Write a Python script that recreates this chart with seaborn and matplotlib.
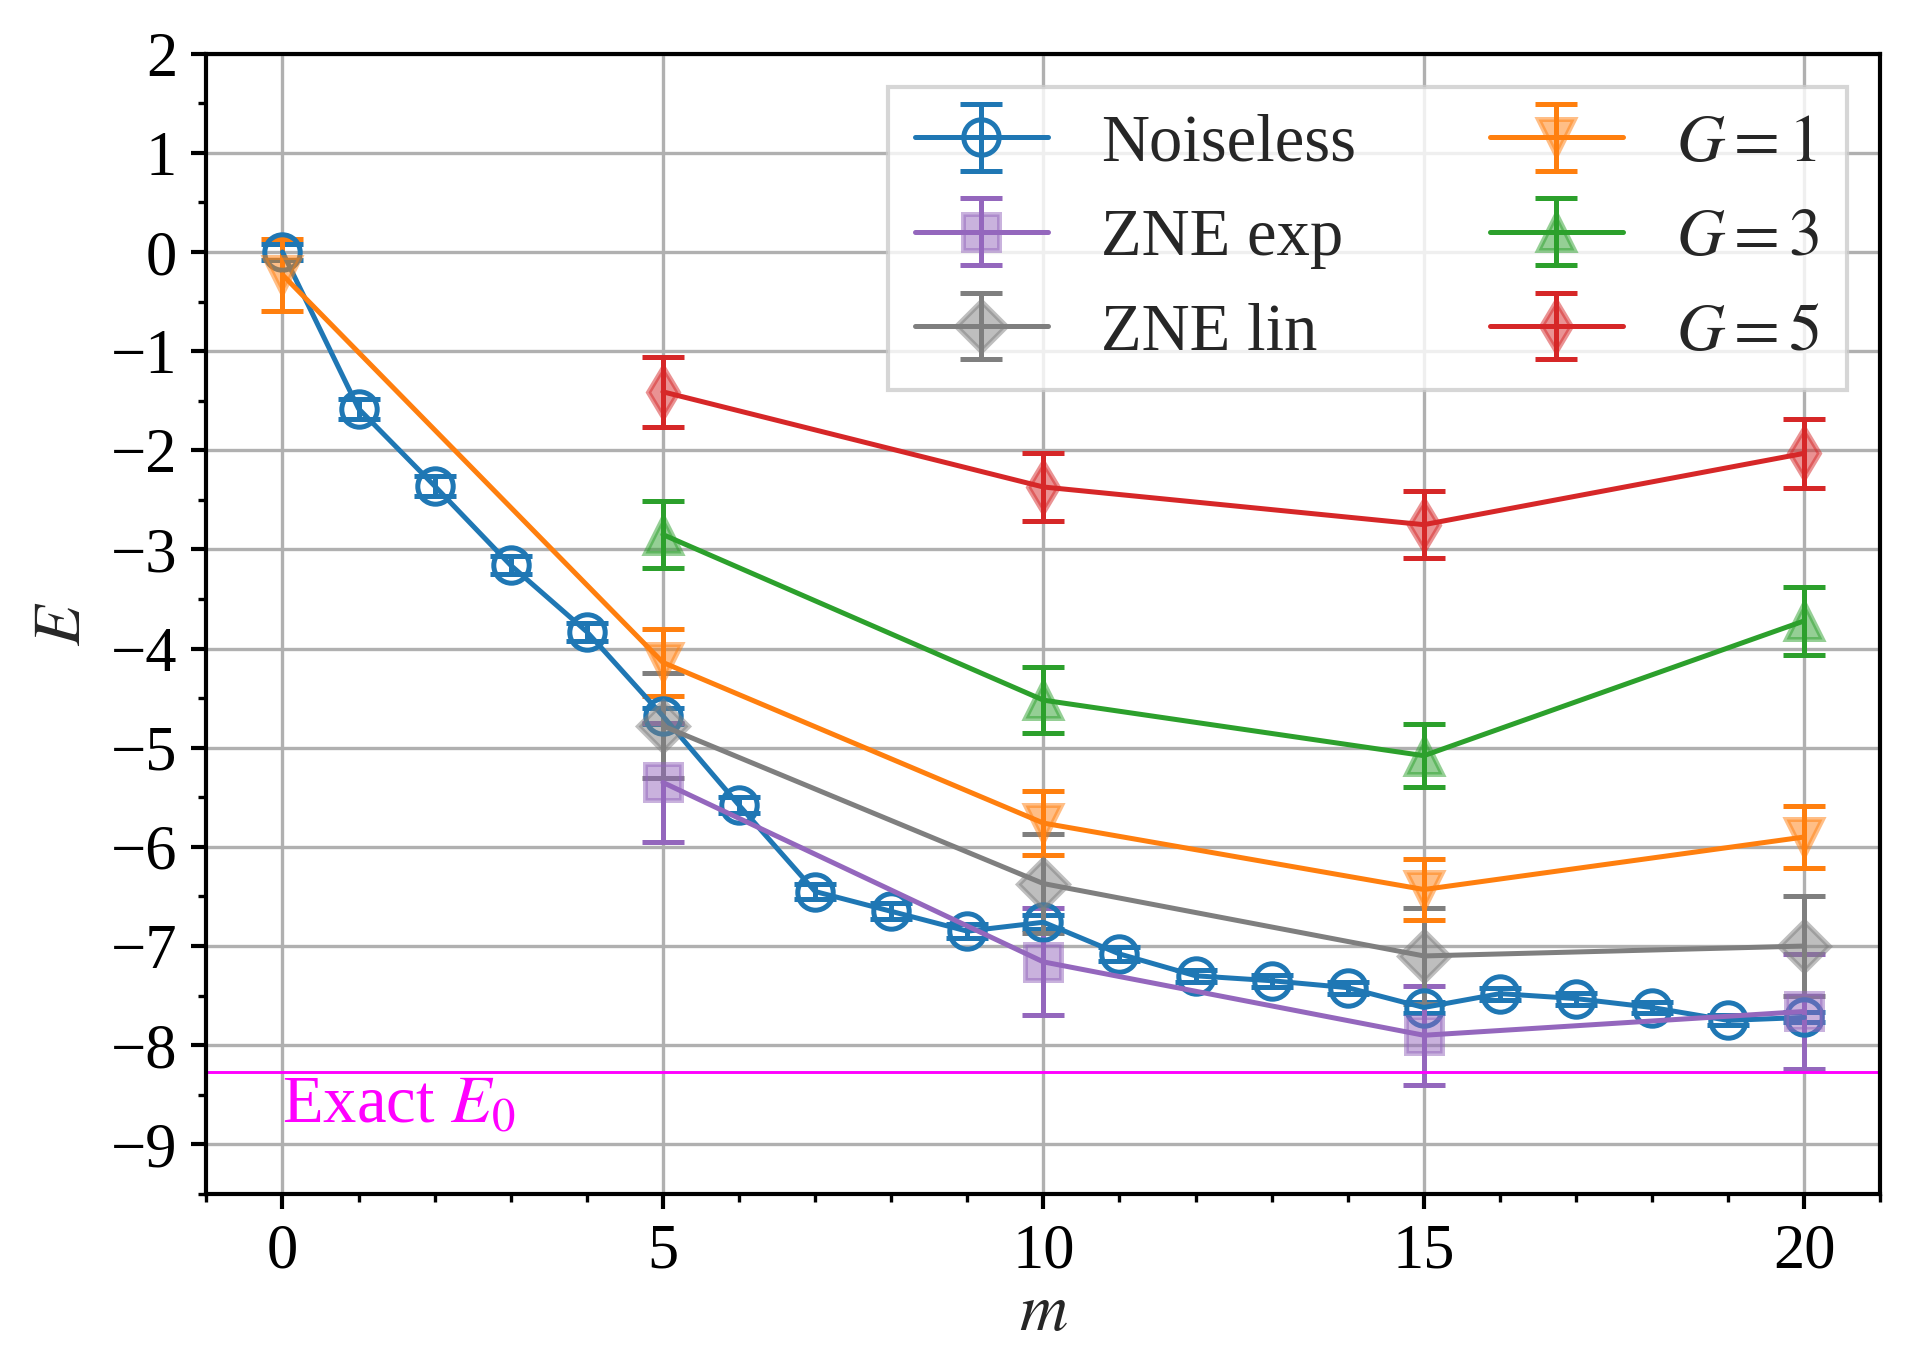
import matplotlib
matplotlib.use("Agg")
import matplotlib.pyplot as plt
from matplotlib.colors import to_rgba
from matplotlib.ticker import MultipleLocator
import seaborn as sns
import numpy as np

# ---- data ----
m_noiseless = list(range(21))
E_noiseless = [0.0, -1.58, -2.36, -3.16, -3.83, -4.68, -5.58, -6.45, -6.65, -6.85,
               -6.76, -7.08, -7.30, -7.35, -7.42, -7.62, -7.48, -7.53, -7.62, -7.75, -7.72]
err_noiseless = [0.08, 0.10, 0.10, 0.09, 0.09, 0.08, 0.08, 0.08, 0.08, 0.07,
                 0.07, 0.07, 0.06, 0.06, 0.06, 0.06, 0.06, 0.06, 0.06, 0.05, 0.05]

m_zne = [5, 10, 15, 20]
E_zne_exp = [-5.35, -7.16, -7.90, -7.66]
err_zne_exp = [0.60, 0.54, 0.50, 0.58]
E_zne_lin = [-4.78, -6.37, -7.10, -7.00]
err_zne_lin = [0.53, 0.50, 0.48, 0.50]

m_g1 = [0, 5, 10, 15, 20]
E_g1 = [-0.23, -4.14, -5.76, -6.43, -5.90]
err_g1 = [0.36, 0.34, 0.32, 0.31, 0.31]

m_g = [5, 10, 15, 20]
E_g3 = [-2.85, -4.52, -5.08, -3.72]
err_g3 = [0.34, 0.33, 0.32, 0.34]
E_g5 = [-1.41, -2.37, -2.75, -2.03]
err_g5 = [0.35, 0.34, 0.34, 0.35]

E_exact = -8.27

sns.set_style("ticks", {"axes.grid": True, "grid.color": "#b0b0b0",
                        "axes.edgecolor": "black", "xtick.color": "black",
                        "ytick.color": "black"})
plt.rcParams['font.family'] = ['Liberation Serif', 'DejaVu Serif']
plt.rcParams['mathtext.fontset'] = 'stix'
plt.rcParams['font.size'] = 15
plt.rcParams['axes.linewidth'] = 1.0

pal = sns.color_palette("tab10")
c_blue, c_orange, c_green, c_red, c_purple, c_gray = pal[0], pal[1], pal[2], pal[3], pal[4], pal[7]

fig, ax = plt.subplots(figsize=(6.37, 4.487), dpi=300)
fig.subplots_adjust(left=0.108, right=0.984, top=0.960, bottom=0.113)

common = dict(lw=1.2, elinewidth=1.2, capsize=5, capthick=1.2, ms=8.5, mew=1.2)

def translucent(series_x, series_y, series_err, color, marker, label):
    ax.errorbar(series_x, series_y, yerr=series_err, fmt='-' + marker, color=color,
                mfc=to_rgba(color, 0.5), mec=to_rgba(color, 0.5), label=label, **common)

ax.errorbar(m_noiseless, E_noiseless, yerr=err_noiseless, fmt='-o', color=c_blue,
            mfc='none', mec=c_blue, label='Noiseless', **common)
translucent(m_zne, E_zne_exp, err_zne_exp, c_purple, 's', 'ZNE exp')
translucent(m_zne, E_zne_lin, err_zne_lin, c_gray, 'D', 'ZNE lin')
translucent(m_g1, E_g1, err_g1, c_orange, 'v', r'$G=1$')
translucent(m_g, E_g3, err_g3, c_green, '^', r'$G=3$')
translucent(m_g, E_g5, err_g5, c_red, 'd', r'$G=5$')

ax.axhline(E_exact, color='magenta', lw=0.7)
ax.text(0, E_exact - 0.03, r'Exact $E_0$', color='magenta', ha='left', va='top', fontsize=16)

ax.set_xlim(-1, 21)
ax.set_ylim(-9.5, 2)
ax.set_xticks([0, 5, 10, 15, 20])
ax.set_yticks(np.arange(-9, 3, 1))
ax.xaxis.set_minor_locator(MultipleLocator(1))
ax.yaxis.set_minor_locator(MultipleLocator(0.5))
ax.tick_params(which='major', length=3.5, width=1.0, labelsize=15)
ax.tick_params(which='minor', length=2, width=0.8)
ax.grid(True, which='major', color='#b0b0b0', lw=0.8)

ax.set_xlabel(r'$m$', fontsize=16, labelpad=0.5)
ax.set_ylabel(r'$E$', fontsize=16)

ax.legend(loc='upper right', ncol=2, fontsize=16, fancybox=False, edgecolor='#cccccc')

fig.savefig("out.png", dpi=300)
